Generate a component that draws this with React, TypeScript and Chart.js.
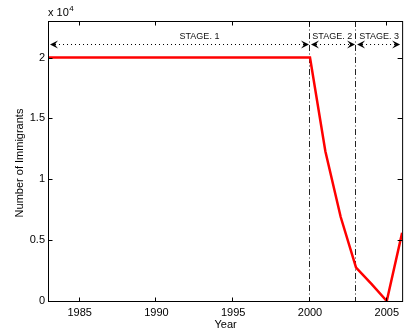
import React, { useEffect, useRef } from "react";
import { Chart, registerables } from "chart.js";
Chart.register(...registerables);

const years = [1983, 1984, 1985, 1986, 1987, 1988, 1989, 1990, 1991, 1992, 1993, 1994, 1995, 1996, 1997, 1998, 1999, 2000, 2001, 2002, 2003, 2004, 2005, 2006];
const immigrants = [20000, 20000, 20000, 20000, 20000, 20000, 20000, 20000, 20000, 20000, 20000, 20000, 20000, 20000, 20000, 20000, 20000, 20000, 12300, 6900, 2750, 1400, 0, 5600];
const xTicks = [1985, 1990, 1995, 2000, 2005];
const yTicks = [0, 5000, 10000, 15000, 20000];
const yTickLabels = ["0", "0.5", "1", "1.5", "2"];
const stageBounds = [1983, 2000, 2003, 2006];
const stageDividers = [2000, 2003];
const stageLabels = ["STAGE. 1", "STAGE. 2", "STAGE. 3"];
const stageLabelX = [1992.8, 2000.15, 2003.2];
const stageArrowLevel = 21100;

const FONT = "'Liberation Sans', Arial, Helvetica, sans-serif";

function arrowHead(ctx: CanvasRenderingContext2D, x: number, y: number, dir: number) {
  const L = 8, W = 4;
  ctx.beginPath();
  ctx.moveTo(x, y);
  ctx.lineTo(x + dir * L, y - W);
  ctx.lineTo(x + dir * L * 0.6, y);
  ctx.lineTo(x + dir * L, y + W);
  ctx.closePath();
  ctx.fill();
}

const decorPlugin = {
  id: "decor",
  beforeDatasetsDraw(chart: any) {
    const ctx = chart.ctx as CanvasRenderingContext2D;
    const { right, top, bottom } = chart.chartArea;
    const xs = chart.scales.x, ys = chart.scales.y;
    ctx.save();
    ctx.strokeStyle = "#222";
    ctx.lineWidth = 1;
    ctx.setLineDash([6, 2.5, 1, 2.5]);
    stageDividers.forEach((v) => {
      const px = Math.round(xs.getPixelForValue(v)) - 0.5;
      ctx.beginPath();
      ctx.moveTo(px, top);
      ctx.lineTo(px, bottom);
      ctx.stroke();
    });
    const ay = Math.round(ys.getPixelForValue(stageArrowLevel)) + 0.5;
    ctx.setLineDash([1, 3]);
    ctx.strokeStyle = "#000";
    ctx.fillStyle = "#000";
    for (let i = 0; i < stageBounds.length - 1; i++) {
      const x1 = xs.getPixelForValue(stageBounds[i]);
      const x2 = Math.min(xs.getPixelForValue(stageBounds[i + 1]), right - 1);
      ctx.beginPath();
      ctx.moveTo(x1 + 2, ay);
      ctx.lineTo(x2 - 2, ay);
      ctx.stroke();
      arrowHead(ctx, x1 + 1, ay, 1);
      arrowHead(ctx, x2 - 1, ay, -1);
    }
    ctx.setLineDash([]);
    ctx.font = `9px ${FONT}`;
    ctx.textBaseline = "alphabetic";
    ctx.fillStyle = "#111";
    stageLabels.forEach((t, i) => {
      const px = xs.getPixelForValue(stageLabelX[i]);
      ctx.textAlign = i === 0 ? "center" : "left";
      ctx.fillText(t, px, 38.5);
    });
    ctx.restore();
  },
  afterDraw(chart: any) {
    const ctx = chart.ctx as CanvasRenderingContext2D;
    const { left, right, top, bottom } = chart.chartArea;
    const xs = chart.scales.x, ys = chart.scales.y;
    ctx.save();
    ctx.strokeStyle = "#000";
    ctx.lineWidth = 1;
    ctx.setLineDash([]);
    const L = left - 0.5, R = right + 0.5, T = top + 0.5, B = bottom + 0.5;
    ctx.strokeRect(L, T, R - L, B - T);
    const tl = 4;
    ctx.beginPath();
    xTicks.forEach((v) => {
      const px = Math.round(xs.getPixelForValue(v)) - 0.5;
      ctx.moveTo(px, B);
      ctx.lineTo(px, B - tl);
      ctx.moveTo(px, T);
      ctx.lineTo(px, T + tl);
    });
    yTicks.forEach((v) => {
      const py = Math.round(ys.getPixelForValue(v)) + 0.5;
      ctx.moveTo(L, py);
      ctx.lineTo(L + tl, py);
      ctx.moveTo(R, py);
      ctx.lineTo(R - tl - 1, py);
    });
    ctx.stroke();
    ctx.fillStyle = "#000";
    ctx.font = `11px ${FONT}`;
    ctx.textAlign = "left";
    ctx.textBaseline = "alphabetic";
    ctx.fillText("x 10", 48, 16);
    const w = ctx.measureText("x 10").width;
    ctx.font = `8px ${FONT}`;
    ctx.fillText("4", 48 + w + 0.5, 11);
    ctx.font = `11px ${FONT}`;
    ctx.textAlign = "center";
    ctx.fillText("Year", (left + right) / 2, 328);
    ctx.translate(23, (top + bottom) / 2 + 2);
    ctx.rotate(-Math.PI / 2);
    ctx.fillText("Number of Immigrants", 0, 0);
    ctx.restore();
  },
};

export default function App() {
  const ref = useRef<HTMLCanvasElement | null>(null);
  useEffect(() => {
    document.body.style.margin = "0";
    const chart = new Chart(ref.current as HTMLCanvasElement, {
      type: "line",
      data: {
        datasets: [
          {
            data: years.map((y, i) => ({ x: y, y: immigrants[i] })),
            borderColor: "#ff0000",
            borderWidth: 2.5,
            pointRadius: 0,
            tension: 0,
            fill: false,
          },
        ],
      },
      options: {
        animation: false,
        responsive: false,
        maintainAspectRatio: false,
        layout: { padding: { top: 21, right: 0, left: 0, bottom: 0 } },
        plugins: { legend: { display: false }, tooltip: { enabled: false }, title: { display: false } },
        scales: {
          x: {
            type: "linear",
            min: 1983,
            max: 2006,
            afterBuildTicks: (s: any) => {
              s.ticks = xTicks.map((v) => ({ value: v }));
            },
            afterFit: (s: any) => {
              s.height = 28;
            },
            grid: { display: false, drawTicks: false },
            border: { display: false },
            ticks: {
              font: { family: FONT, size: 11 },
              color: "#000",
              padding: 5,
              maxRotation: 0,
              autoSkip: false,
              callback: (v: any) => String(v),
            },
          },
          y: {
            type: "linear",
            min: 0,
            max: 23000,
            afterBuildTicks: (s: any) => {
              s.ticks = yTicks.map((v) => ({ value: v }));
            },
            afterFit: (s: any) => {
              s.width = 49;
            },
            grid: { display: false, drawTicks: false },
            border: { display: false },
            ticks: {
              font: { family: FONT, size: 11 },
              color: "#000",
              padding: 4,
              autoSkip: false,
              callback: (v: any) => {
                const i = yTicks.indexOf(Number(v));
                return i >= 0 ? yTickLabels[i] : "";
              },
            },
          },
        },
      },
      plugins: [decorPlugin],
    } as any);
    return () => chart.destroy();
  }, []);
  return (
    <div style={{ position: "absolute", left: 0, top: 0, width: 404, height: 329, background: "#fff" }}>
      <canvas ref={ref} width={404} height={329} style={{ width: 404, height: 329, display: "block" }} />
    </div>
  );
}
